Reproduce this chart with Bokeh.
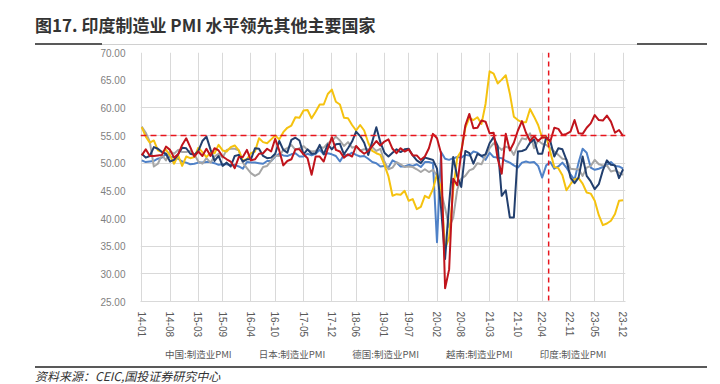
import math
from bokeh.plotting import figure
from bokeh.layouts import column
from bokeh.models import (Range1d, FixedTicker, NumeralTickFormatter, Legend, LegendItem,
                          Span, Div)
from bokeh.embed import file_html
from bokeh.resources import INLINE

# ---------------- data ----------------
months = [f"{y % 100:02d}-{m:02d}" for y in range(2014, 2024) for m in range(1, 13)]
tick_labels = ["14-01", "14-08", "15-03", "15-09", "16-04", "16-10", "17-05", "17-12",
               "18-06", "19-01", "19-07", "20-02", "20-08", "21-03", "21-10", "22-04",
               "22-11", "23-05", "23-12"]

china = [50.5, 50.2, 50.3, 50.4, 50.8, 51.0, 51.7, 51.1, 51.1, 50.8, 50.3, 50.1,
         49.8, 49.9, 50.1, 50.1, 50.2, 50.2, 50.0, 49.7, 49.8, 49.8, 49.6, 49.7,
         49.4, 49.0, 50.2, 50.1, 50.1, 50.0, 49.9, 50.4, 50.4, 51.2, 51.7, 51.4,
         51.3, 51.6, 51.8, 51.2, 51.2, 51.7, 51.4, 51.7, 52.4, 51.6, 51.8, 51.6,
         51.3, 50.3, 51.5, 51.4, 51.9, 51.5, 51.2, 51.3, 50.8, 50.2, 50.0, 49.4,
         49.5, 49.2, 50.5, 50.1, 49.4, 49.4, 49.7, 49.5, 49.8, 49.3, 50.2, 50.2,
         50.0, 35.7, 52.0, 50.8, 50.6, 50.9, 51.1, 51.0, 51.5, 51.4, 52.1, 51.9,
         51.3, 50.6, 51.9, 51.1, 51.0, 50.9, 50.4, 50.1, 49.6, 49.2, 50.1, 50.3,
         50.1, 50.2, 49.5, 47.4, 49.6, 50.2, 49.0, 49.4, 50.1, 49.2, 48.0, 47.0,
         50.1, 52.6, 51.9, 49.2, 48.8, 49.0, 49.3, 49.7, 50.2, 49.5, 49.4, 49.0]

japan = [56.6, 55.5, 53.9, 49.4, 49.9, 51.5, 50.5, 52.2, 51.7, 52.4, 52.0, 52.0,
         52.2, 51.6, 50.3, 49.9, 50.9, 50.1, 51.2, 51.7, 51.0, 52.4, 52.6, 52.6,
         52.3, 50.1, 49.1, 48.2, 47.7, 48.1, 49.3, 49.5, 50.4, 51.4, 51.3, 52.4,
         52.7, 53.3, 52.4, 52.7, 53.1, 52.4, 52.1, 52.2, 52.9, 52.8, 53.6, 54.0,
         54.8, 54.1, 53.1, 53.8, 52.8, 53.0, 52.3, 52.5, 52.5, 52.9, 52.2, 52.6,
         50.3, 48.9, 49.2, 50.2, 49.8, 49.3, 49.4, 49.3, 48.9, 48.4, 48.9, 48.4,
         48.8, 47.8, 44.8, 41.9, 38.4, 40.1, 45.2, 47.2, 47.7, 48.7, 49.0, 50.0,
         49.8, 51.4, 52.7, 53.6, 53.0, 52.4, 53.0, 52.7, 51.5, 53.2, 54.5, 54.3,
         55.4, 52.7, 54.1, 53.5, 53.3, 52.7, 52.1, 51.5, 50.8, 50.7, 49.0, 48.9,
         48.9, 47.7, 49.2, 49.5, 50.6, 49.8, 49.6, 49.6, 48.5, 48.7, 48.3, 47.9]

germany = [56.5, 54.8, 53.7, 54.1, 52.3, 52.0, 52.4, 51.4, 49.9, 51.4, 49.5, 51.2,
           50.9, 51.1, 52.8, 52.0, 51.1, 51.9, 51.8, 53.3, 52.3, 52.1, 52.9, 53.2,
           52.3, 50.5, 50.7, 51.8, 52.1, 54.5, 53.8, 53.6, 54.3, 55.0, 54.3, 55.6,
           56.4, 56.8, 58.3, 58.2, 59.5, 59.6, 58.1, 59.3, 60.6, 60.6, 62.5, 63.3,
           61.1, 60.6, 58.2, 58.1, 56.9, 55.9, 56.9, 55.9, 53.7, 52.2, 51.8, 51.5,
           49.7, 47.6, 44.1, 44.4, 44.3, 45.0, 43.2, 43.5, 41.7, 42.1, 44.1, 43.7,
           45.3, 48.0, 45.4, 34.5, 36.6, 45.2, 51.0, 52.2, 56.4, 58.2, 57.8, 58.3,
           57.1, 60.7, 66.6, 66.2, 64.4, 65.1, 65.9, 62.6, 58.4, 57.8, 57.4, 57.4,
           59.8, 58.4, 56.9, 54.6, 54.8, 52.0, 49.3, 49.1, 47.8, 45.1, 46.2, 47.1,
           47.3, 46.3, 44.7, 44.5, 43.2, 40.6, 38.8, 39.1, 39.6, 40.8, 43.2, 43.3]

vietnam = [51.7, 51.0, 51.3, 52.9, 52.6, 52.0, 51.7, 50.3, 50.6, 51.6, 52.8, 52.7,
           51.7, 51.5, 52.2, 54.0, 54.8, 52.5, 50.4, 51.3, 49.5, 50.1, 49.4, 51.3,
           51.5, 50.3, 50.7, 50.7, 52.7, 52.6, 51.3, 50.9, 51.0, 51.7, 54.0, 52.4,
           51.9, 54.2, 54.6, 54.1, 51.6, 52.5, 51.7, 51.8, 53.3, 51.6, 53.4, 52.5,
           53.4, 53.5, 51.6, 52.7, 53.9, 55.7, 54.9, 53.7, 51.5, 53.9, 56.5, 53.8,
           51.9, 51.2, 51.9, 52.5, 52.0, 52.5, 52.6, 51.4, 50.5, 50.0, 51.0, 50.8,
           50.6, 49.0, 41.9, 32.7, 42.7, 51.1, 47.6, 45.7, 52.2, 51.8, 49.9, 51.7,
           51.3, 51.6, 53.6, 54.7, 53.1, 44.1, 45.1, 40.2, 40.2, 52.1, 52.2, 52.5,
           53.7, 54.3, 51.7, 51.7, 54.7, 54.0, 51.2, 52.7, 52.5, 50.6, 47.4, 46.4,
           47.4, 51.2, 47.7, 46.7, 45.3, 46.2, 48.7, 50.5, 49.7, 49.6, 47.3, 48.9]

india = [51.4, 52.5, 51.3, 51.3, 51.4, 51.5, 53.0, 52.4, 51.0, 51.6, 53.3, 54.5,
         52.9, 51.2, 52.1, 51.3, 52.6, 51.3, 52.7, 52.3, 51.2, 50.7, 50.3, 49.1,
         51.1, 51.1, 52.4, 50.5, 50.7, 51.7, 51.8, 52.6, 52.1, 54.4, 52.3, 49.6,
         50.4, 50.7, 52.5, 52.5, 51.6, 50.9, 47.9, 51.2, 51.2, 50.3, 52.6, 54.7,
         52.4, 52.1, 51.0, 51.6, 51.2, 53.1, 52.3, 51.7, 52.2, 53.1, 54.0, 53.2,
         53.9, 54.3, 52.6, 51.8, 52.7, 52.1, 52.5, 51.4, 51.4, 50.6, 51.2, 52.7,
         55.3, 54.5, 51.8, 27.4, 30.8, 47.2, 46.0, 52.0, 56.8, 58.9, 56.3, 56.4,
         57.7, 57.5, 55.4, 55.5, 50.8, 48.1, 55.3, 52.3, 53.7, 55.9, 57.6, 55.5,
         54.0, 54.9, 54.0, 54.7, 54.6, 53.9, 56.4, 56.2, 55.1, 55.3, 55.7, 57.8,
         55.4, 55.3, 56.4, 57.2, 58.7, 57.8, 57.7, 58.6, 57.5, 55.5, 56.0, 54.9]

series_names = ["中国:制造业PMI", "日本:制造业PMI", "德国:制造业PMI", "越南:制造业PMI", "印度:制造业PMI"]
series_values = [china, japan, germany, vietnam, india]
series_colors = ["#4F81C7", "#A6A6A6", "#F5C20F", "#223F6E", "#C0141C"]

ref_level = 55.0          # horizontal dashed reference
ref_month = 100.6         # vertical dashed marker (mid 2022-05)

title_text = "图17. 印度制造业 PMI 水平领先其他主要国家"
source_text = "资料来源：CEIC,国投证券研究中心"

W = 720
HEAD_H, MAIN_H, LEG_H, FOOT_H = 46, 294, 24, 20
BL, BR = 140, 95   # side borders shared by the chart and the legend strip

# ---------------- header (title + rule) ----------------
head_html = (
    f'<div style="position:relative;width:{W}px;height:{HEAD_H}px;overflow:hidden;margin:0;padding:0;">'
    f'<div style="position:absolute;left:35px;top:14px;white-space:nowrap;'
    f'font-family:\'Noto Sans CJK SC\';font-weight:bold;font-size:17px;line-height:22px;'
    f'color:#333333;">{title_text}</div>'
    f'<div style="position:absolute;left:102px;top:43.5px;width:535px;height:1px;background:#D0D0D0;"></div>'
    f'<div style="position:absolute;left:35px;top:43px;width:67px;height:2px;background:#595959;"></div>'
    f'<div style="position:absolute;left:637px;top:43px;width:70px;height:2px;background:#595959;"></div>'
    f'</div>'
)
head = Div(text=head_html, width=W, height=HEAD_H, margin=0)

# ---------------- main chart ----------------
x = list(range(len(months)))
p = figure(width=W, height=MAIN_H, output_backend="svg", toolbar_location=None,
           x_range=Range1d(-0.3, 119.6), y_range=Range1d(25, 70),
           min_border_left=BL, min_border_right=BR, min_border_top=6, min_border_bottom=33)
p.outline_line_color = None
p.background_fill_color = "white"
p.border_fill_color = "white"

tick_pos = [months.index(t) for t in tick_labels]
p.xaxis.ticker = FixedTicker(ticks=tick_pos)
p.xaxis.major_label_overrides = {i: t for i, t in zip(tick_pos, tick_labels)}
p.xaxis.major_label_orientation = -math.pi / 2
p.xaxis.axis_line_color = "#D9D9D9"
p.xaxis.major_tick_line_color = None
p.xaxis.minor_tick_line_color = None
p.xaxis.major_label_standoff = 4
p.xaxis.major_label_text_font = "Liberation Sans"
p.xaxis.major_label_text_font_size = "10px"
p.xaxis.major_label_text_color = "#595959"

p.yaxis.ticker = FixedTicker(ticks=list(range(25, 71, 5)))
p.yaxis.formatter = NumeralTickFormatter(format="0.00")
p.yaxis.axis_line_color = None
p.yaxis.major_tick_line_color = None
p.yaxis.minor_tick_line_color = None
p.yaxis.major_label_standoff = 9
p.yaxis.major_label_text_font = "Liberation Sans"
p.yaxis.major_label_text_font_size = "10px"
p.yaxis.major_label_text_color = "#7F7F7F"

p.xgrid.grid_line_color = "#D9D9D9"
p.ygrid.grid_line_color = "#D9D9D9"

for vals, col in zip(series_values, series_colors):
    p.line(x, vals, line_color=col, line_width=2, line_join="round")

p.add_layout(Span(location=ref_level, dimension="width", line_color="#E8141C",
                  line_width=1.5, line_dash="6 4"))
p.add_layout(Span(location=ref_month, dimension="height", line_color="#E8141C",
                  line_width=1.5, line_dash="5 4"))

# ---------------- legend strip ----------------
leg = figure(width=W, height=LEG_H, output_backend="svg", toolbar_location=None,
             x_range=Range1d(0, 1), y_range=Range1d(0, 1),
             x_axis_type=None, y_axis_type=None,
             min_border_left=BL, min_border_right=BR, min_border_top=0, min_border_bottom=0)
leg.outline_line_color = None
leg.background_fill_color = "white"
leg.border_fill_color = "white"
items = []
for name, col in zip(series_names, series_colors):
    r = leg.line([], [], line_color=col, line_width=2)
    items.append(LegendItem(label=name, renderers=[r]))
legend = Legend(items=items, orientation="horizontal", location=(1, 3),
                label_text_font="Noto Sans CJK SC", label_text_font_size="9.5px",
                label_text_color="#595959", glyph_width=21, glyph_height=12,
                label_standoff=3, spacing=3, padding=0, margin=0,
                border_line_color=None, background_fill_alpha=0)
leg.add_layout(legend)

# ---------------- footer (rule + source) ----------------
foot_html = (
    f'<div style="position:relative;width:{W}px;height:{FOOT_H}px;margin:0;padding:0;">'
    f'<div style="position:absolute;left:35px;top:2px;width:672px;height:2px;background:#595959;"></div>'
    f'<div style="position:absolute;left:35px;top:5px;white-space:nowrap;'
    f'font-family:\'Noto Sans CJK SC\';font-style:italic;font-size:12px;line-height:14px;'
    f'color:#333333;">{source_text}</div>'
    f'</div>'
)
foot = Div(text=foot_html, width=W, height=FOOT_H, margin=0)

layout = column(head, p, leg, foot, spacing=0)
open("out.html", "w").write(file_html(layout, INLINE))
